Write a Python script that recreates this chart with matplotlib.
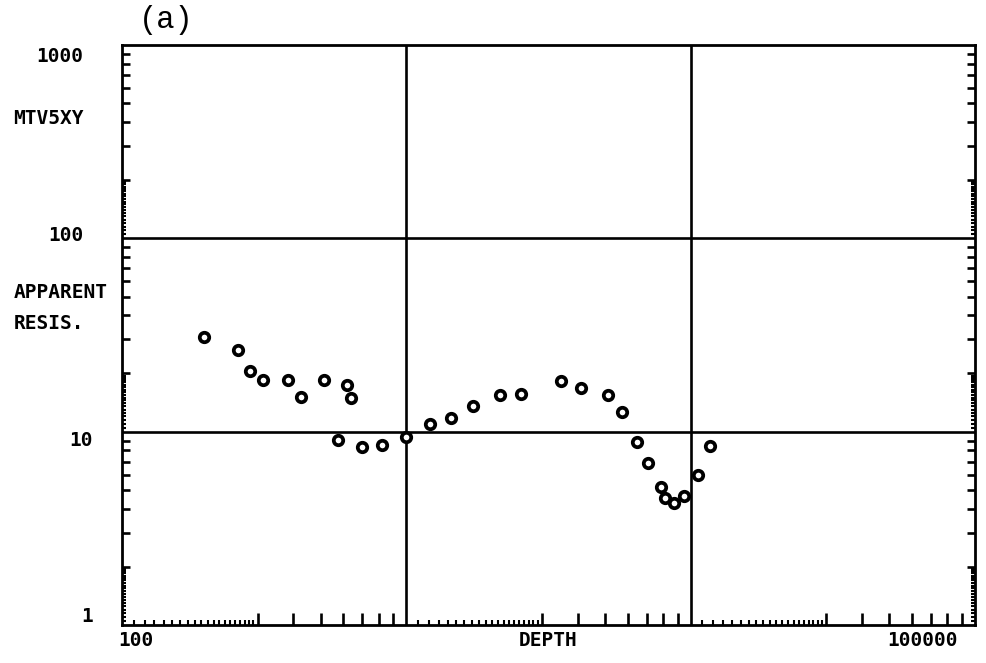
import matplotlib
matplotlib.use("Agg")
import matplotlib.pyplot as plt
import numpy as np
from matplotlib.ticker import FixedLocator, NullFormatter

# MT sounding, apparent resistivity vs depth
depth = [194, 255, 282, 314, 384, 426, 513, 617, 637, 574, 701, 818,
         1000, 1213, 1436, 1714, 2133, 2523, 3508, 4120, 5130, 5740,
         6470, 7080, 7850, 8110, 8730, 9460, 10570, 11650]
resis = [31.0, 26.6, 20.7, 18.4, 18.4, 15.2, 18.4, 17.5, 15.0, 9.09, 8.36, 8.56,
         9.4, 10.9, 11.8, 13.5, 15.4, 15.7, 18.2, 16.9, 15.4, 12.7,
         8.88, 6.90, 5.19, 4.55, 4.29, 4.66, 5.98, 8.46]

ytick_vals = [1, 10, 100, 1000]
ytick_labels = ["1", "10", "100", "1000"]
xtick_labels = ["100", "100000"]

W, H = 987, 663
fig = plt.figure(figsize=(W / 100, H / 100), dpi=100)


def fx(px):
    return px / W


def fy(py):
    return 1 - py / H


ax = fig.add_axes([fx(122), fy(625), fx(975) - fx(122), fy(45) - fy(625)])
ax.set_xscale("log")
ax.set_yscale("log")
ax.set_xlim(100, 100000)
ax.set_ylim(1, 1000)

for s in ax.spines.values():
    s.set_linewidth(2.0)
    s.set_color("black")

# decade grid lines
for xv in [1000, 10000]:
    ax.axvline(xv, color="black", lw=1.9, zorder=1)
for yv in [10, 100]:
    ax.axhline(yv, color="black", lw=1.9, zorder=1)

# tick marks: tall ones at 3..9 (x) / 2..9 (y), fine ones below those
dec_x = [100, 1000, 10000]
dec_y = [1, 10, 100]
x_tall = [m * d for d in dec_x for m in range(3, 10)]
x_fine = [m / 10 * d for d in dec_x for m in range(11, 30)]
y_tall = [m * d for d in dec_y for m in range(2, 10)]
y_fine = [m / 20 * d for d in dec_y for m in range(21, 40)]

ax.xaxis.set_major_locator(FixedLocator(x_tall))
ax.xaxis.set_minor_locator(FixedLocator(x_fine))
ax.yaxis.set_major_locator(FixedLocator(y_tall))
ax.yaxis.set_minor_locator(FixedLocator(y_fine))
ax.xaxis.set_major_formatter(NullFormatter())
ax.xaxis.set_minor_formatter(NullFormatter())
ax.yaxis.set_major_formatter(NullFormatter())
ax.yaxis.set_minor_formatter(NullFormatter())

ax.tick_params(axis="x", which="major", direction="in", length=9, width=1.9,
               bottom=True, top=False)
ax.tick_params(axis="x", which="minor", direction="in", length=3.5, width=1.5,
               bottom=True, top=False)
ax.tick_params(axis="y", which="major", direction="in", length=6, width=1.9,
               left=True, right=True)
ax.tick_params(axis="y", which="minor", direction="in", length=3, width=1.5,
               left=True, right=True)

ax.plot(depth, resis, linestyle="none", marker="o", ms=6.8, mew=2.7,
        mfc="white", mec="black", zorder=3, clip_on=False)

lab = dict(family="DejaVu Sans Mono", weight="bold", fontsize=14, color="black")

# y tick labels
ylab_pos = [(93, 617), (93, 441), (84, 235), (83, 57)]
for t, (px, py) in zip(ytick_labels, ylab_pos):
    fig.text(fx(px), fy(py), t, ha="right", va="center", **lab)

# x tick labels
fig.text(fx(118), fy(641), xtick_labels[0], ha="left", va="center", **lab)
fig.text(fx(958), fy(641), xtick_labels[1], ha="right", va="center", **lab)
fig.text(fx(548), fy(641), "DEPTH", ha="center", va="center", **lab)

fig.text(fx(84), fy(118), "MTV5XY", ha="right", va="center", **lab)
fig.text(fx(14), fy(292), "APPARENT", ha="left", va="center", **lab)
fig.text(fx(14), fy(323), "RESIS.", ha="left", va="center", **lab)

fig.text(fx(139), fy(20), "(a)", ha="left", va="center",
         family="Liberation Mono", fontsize=22, color="black")

fig.savefig("out.png", dpi=100)
